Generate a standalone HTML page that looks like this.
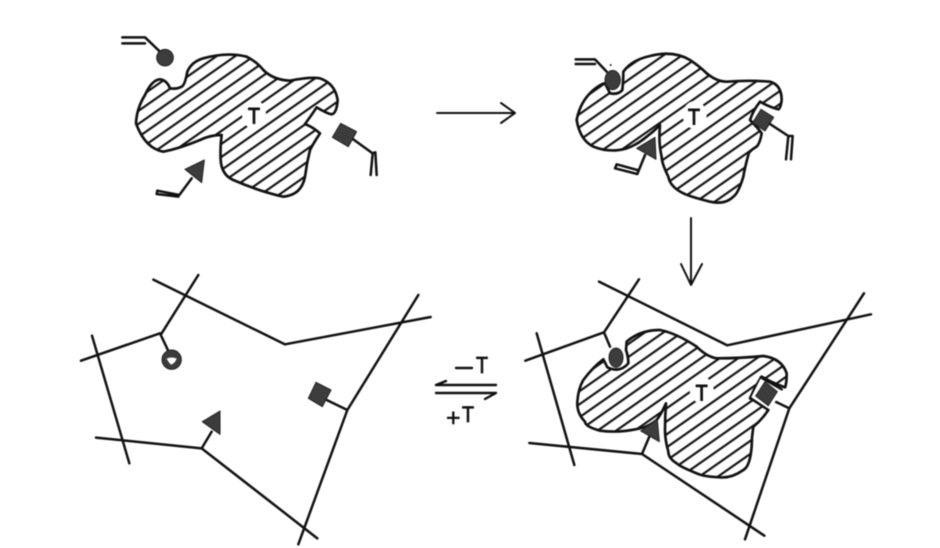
<!DOCTYPE html>
<html><head><meta charset="utf-8"><style>
html,body{margin:0;padding:0;background:#fff}
svg{display:block;filter:blur(.45px)}
text{font-family:"Liberation Sans",sans-serif;fill:#111}
.l{fill:none;stroke:#111;stroke-width:7.5;stroke-linejoin:round;stroke-linecap:round}
.b{stroke:#111;stroke-width:8;fill:url(#h);stroke-linejoin:round}
.d{fill:#3c3c3c;stroke:#222;stroke-width:3;stroke-linejoin:round}
.w{fill:#fff;stroke:none}
.t{stroke:#111;stroke-width:3}
</style></head><body>
<svg width="940" height="548" viewBox="0 0 940 548" xmlns="http://www.w3.org/2000/svg">
<defs>
<pattern id="h" width="100" height="32" patternUnits="userSpaceOnUse" patternTransform="rotate(-35)">
<rect width="100" height="32" fill="#fff"/><rect y="13" width="100" height="6.5" fill="#111"/>
</pattern>
</defs>
<rect width="940" height="548" fill="#fff"/>

<!-- Top left -->
<g transform="translate(110,20) scale(.33333)">
<path class="b" d="M105 225Q125 180 150 178Q170 180 180 205Q200 208 215 200Q225 195 232 155Q245 125 280 115Q350 95 410 110Q440 125 460 150Q490 180 540 182Q600 170 630 175Q675 190 683 240Q680 280 665 283Q650 280 620 262Q605 285 585 312Q610 322 630 340Q610 370 600 390Q590 430 585 470Q575 525 520 530Q450 515 370 480Q335 465 332 420Q330 380 335 345Q300 345 270 360Q210 385 160 395Q105 385 78 310Q80 265 105 225Z"/>
<ellipse class="w" cx="432" cy="283" rx="36" ry="44"/>
<text class="t" x="432" y="310" font-size="66" text-anchor="middle" textLength="36" lengthAdjust="spacingAndGlyphs">T</text>
<path class="l" d="M37 52H105L150 95M37 70H105"/>
<circle class="d" cx="165" cy="113" r="25"/>
<polygon class="d" points="692,310 740,335 715,380 667,352"/>
<path class="l" d="M730 358L788 400M782 465L788 400L796 397L800 465"/>
<polygon class="d" points="283,420 225,448 275,488"/>
<path class="l" d="M245 475L208 525L142 512L140 522L205 530"/>
</g>

<!-- Top right -->
<g transform="translate(560,30) scale(.33333)">
<path class="b" d="M190 125Q215 90 270 78Q340 60 390 90Q420 110 440 130Q470 155 500 155Q570 150 630 155Q665 165 665 210Q662 235 655 238Q625 230 600 215Q580 240 570 270Q595 295 605 310Q600 340 590 350Q565 365 565 375Q555 410 550 440Q535 490 520 500Q495 525 450 515Q390 500 370 490Q330 470 325 440Q305 400 305 380Q295 340 300 285Q280 305 260 320Q230 345 200 355Q150 370 100 350Q60 330 50 270Q60 215 100 180Q125 160 135 160L150 190Q175 195 187 180Q190 150 190 125Z"/>
<ellipse class="w" cx="404" cy="255" rx="36" ry="42"/>
<text class="t" x="402" y="283" font-size="66" text-anchor="middle" textLength="36" lengthAdjust="spacingAndGlyphs">T</text>
<path class="l" d="M47 88H105L140 125M47 102H105"/>
<ellipse class="d" cx="158" cy="150" rx="23" ry="29"/>
<circle cx="152" cy="105" r="3" fill="#222"/>
<polygon class="d" points="603,238 641,262 615,303 578,278"/>
<path class="l" d="M630 282L685 318L678 388M698 318L693 388M685 318H698"/>
<polygon class="d" points="285,322 230,355 288,388"/>
<path class="l" d="M255 375L232 432L165 415L170 403L232 420"/>
</g>

<!-- Bottom right -->
<g transform="translate(520,270) scale(.33333)">
<path class="b" d="M320 215Q360 180 420 180Q470 190 530 230Q560 260 590 265Q660 265 730 258Q785 265 800 310Q800 340 795 352Q760 340 725 320Q705 350 690 385Q720 400 745 420Q725 450 700 470Q695 500 695 530Q690 590 670 600Q635 625 600 622Q550 620 530 610Q480 590 470 580Q445 565 445 545Q435 510 435 480Q435 440 438 400Q425 430 410 450Q385 470 360 475Q300 490 240 482Q195 470 195 455Q170 430 172 395Q175 355 190 330Q220 290 250 268L262 292Q300 310 325 280Q325 260 318 240Z"/>
<ellipse class="w" cx="545" cy="360" rx="36" ry="40"/>
<text class="t" x="545" y="392" font-size="66" text-anchor="middle" textLength="36" lengthAdjust="spacingAndGlyphs">T</text>
<path class="l" d="M237 35L622 226L1053 133M357 28L252 187M16 272L252 187L270 230M50 190L163 585M28 519L366 552L733 797M366 552L388 500M1032 70L808 415L675 808M808 415L760 392"/>
<ellipse class="d" cx="288" cy="263" rx="21" ry="29"/>
<polygon class="w" points="722,325 790,365 745,420 692,385"/>
<path class="l" d="M722 322L785 358M692 385L745 420"/>
<polygon class="d" points="735,335 772,365 745,407 707,378"/>
<polygon class="d" points="412,448 362,483 418,515"/>
</g>

<!-- Bottom left -->
<g transform="translate(70,265) scale(.33333)">
<path class="l" d="M250 44L645 238L1082 156M385 30L275 205M33 287L270 205L295 258M66 212L178 595M78 518L395 550L742 820M395 550L425 500M1045 90L832 435L685 838M832 435L770 405"/>
<circle cx="305" cy="284" r="29" fill="#3c3c3c" stroke="#222" stroke-width="3"/>
<path d="M290 281Q305 274 320 281Q315 295 303 299Q295 292 290 281Z" fill="#fff"/>
<polygon class="d" points="738,352 783,375 757,425 715,400"/>
<polygon class="d" points="450,438 397,470 450,508"/>
</g>

<!-- Arrows -->
<g fill="none" stroke="#111" stroke-width="2.4" stroke-linecap="round" stroke-linejoin="round">
<path d="M437 113H515M501 103L515 113L501 123" stroke-width="2"/>
<path d="M691 218V285M681 264L691 285L702 264" stroke-width="2"/>
<path d="M436 385H496M436 385L446 381"/>
<path d="M436 393H496L485 399"/>
<path d="M456 368H472"/>
</g>
<text class="t" style="stroke-width:.8" x="476" y="373" font-size="23" textLength="12" lengthAdjust="spacingAndGlyphs">T</text>
<text style="stroke:#111;stroke-width:.5" x="446" y="426" font-size="25">+</text>
<text class="t" style="stroke-width:.8" x="462" y="422" font-size="22" textLength="12" lengthAdjust="spacingAndGlyphs">T</text>
</svg>
</body></html>
